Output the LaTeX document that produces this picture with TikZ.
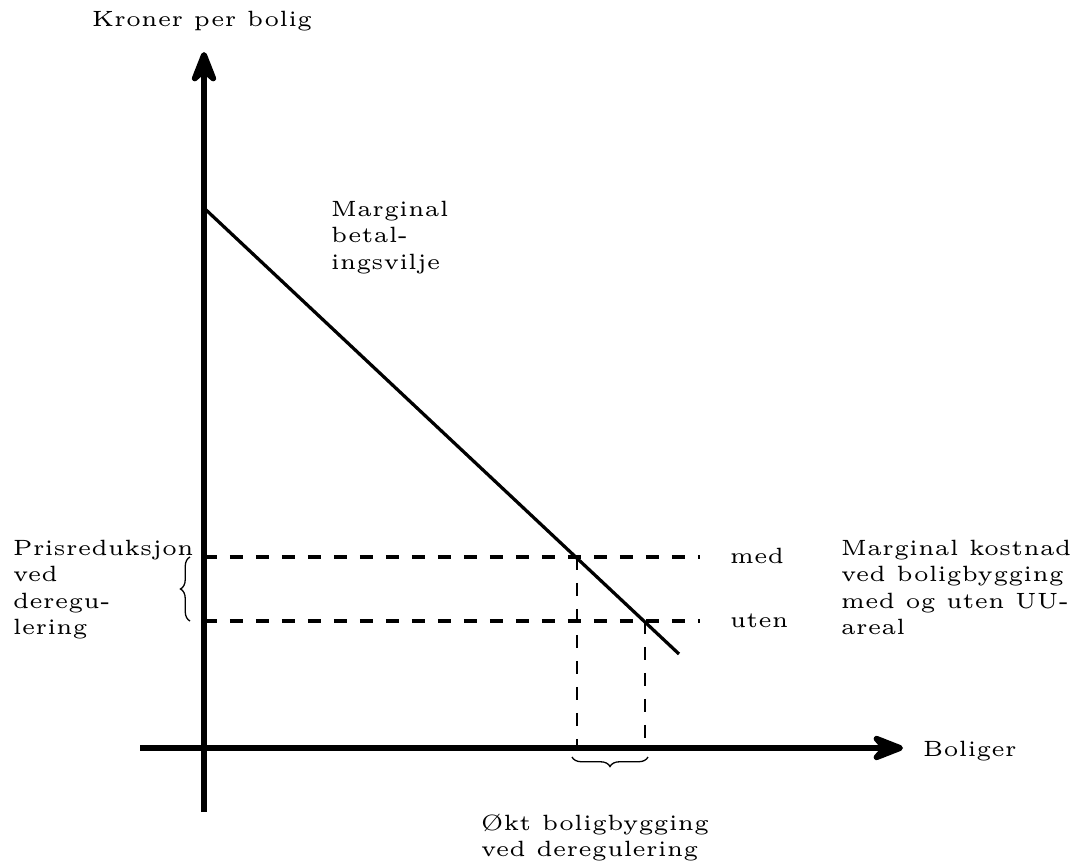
\documentclass[tikz,border=0pt]{standalone}
\usetikzlibrary{decorations.pathreplacing,arrows.meta}
\begin{document}
\begin{tikzpicture}[x=0.2308pt,y=-0.2308pt,
  axis/.style={line width=1.35pt,-{Stealth[round,length=9.5pt,width=7.4pt,inset=3.2pt]}},
  curve/.style={line width=0.75pt},
  hdash/.style={line width=0.8pt,dash pattern=on 3pt off 3pt},
  vdash/.style={line width=0.45pt,dash pattern=on 3pt off 3pt},
  lbl/.style={font=\tiny,inner sep=0pt,align=left,scale=1.02},
  brc/.style={line width=0.3pt,decorate,decoration={brace,amplitude=2.2pt}}]
\useasboundingbox (0,0) rectangle (1075,861);
% axes
\coordinate (ybot) at (204,812);
\coordinate (ytop) at (204,52);
\coordinate (xl) at (140,748);
\coordinate (xr) at (903,748);
\draw[axis] (ybot) -- (ytop);
\draw[axis] (xl) -- (xr);
% demand
\coordinate (d0) at (204,208);
\coordinate (d1) at (679,654);
\draw[curve] (d0) -- (d1);
% cost lines
\coordinate (m0) at (204,557);
\coordinate (m1) at (700,557);
\coordinate (u0) at (204,621);
\coordinate (u1) at (700,621);
\draw[hdash] (m0) -- (m1);
\draw[hdash] (u0) -- (u1);
\coordinate (mi) at (577,557);
\coordinate (ui) at (645,621);
\coordinate (mb) at (577,748);
\coordinate (ub) at (645,748);
\draw[vdash] (mi) -- (mb);
\draw[vdash] (ui) -- (ub);
% braces
\coordinate (lb1) at (190,621);
\coordinate (lb2) at (190,557);
\draw[brc] (lb1) -- (lb2);
\coordinate (bb1) at (648,757);
\coordinate (bb2) at (572,757);
\draw[brc] (bb1) -- (bb2);
% labels
\node[lbl,anchor=north] (ylab) at (202,10) {Kroner per bolig};
\node[lbl,anchor=base west] (xlab) at (922,756) {Boliger};
\node[lbl,anchor=north west] (dlab) at (330,200) {Marginal\\betal-\\ingsvilje};
\node[lbl,anchor=base west] (med) at (729,563) {med};
\node[lbl,anchor=base west] (uten) at (729,627) {uten};
\node[lbl,anchor=north west] (mk) at (840,539) {Marginal kostnad\\ved boligbygging\\med og uten UU-\\areal};
\node[lbl,anchor=north west] (pr) at (12,539) {Prisreduksjon\\ved\\deregu-\\lering};
\node[lbl,anchor=north west] (okt) at (480,813) {Økt boligbygging\\ved deregulering};
\end{tikzpicture}
\end{document}
